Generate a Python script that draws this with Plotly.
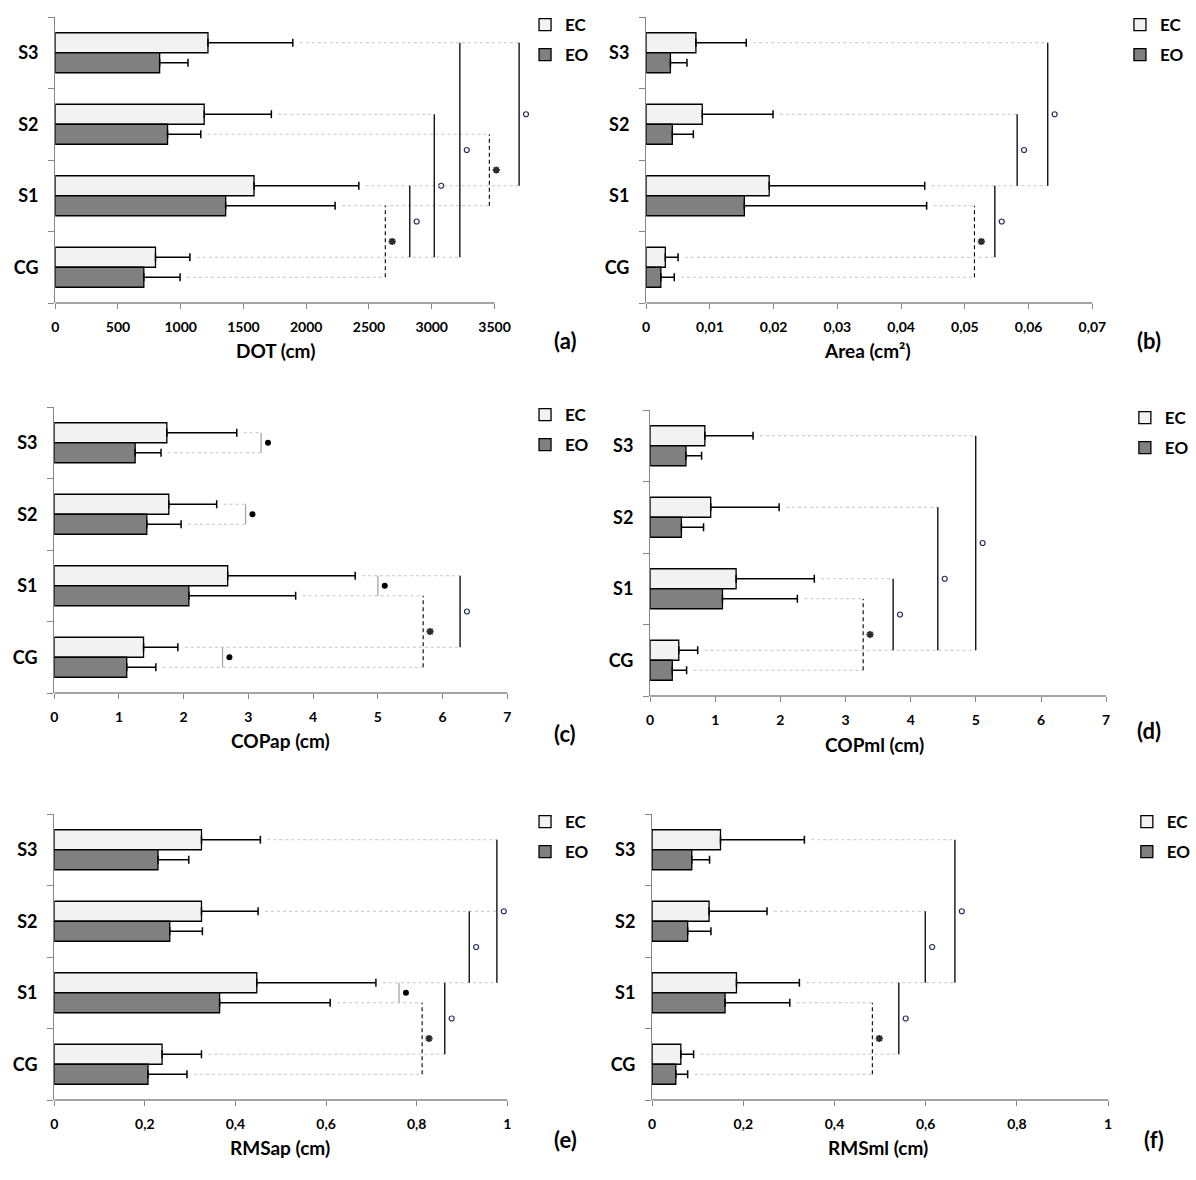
import plotly.graph_objects as go

W, H = 1196, 1180
FONT = "Lato"
GRAY = "#868686"
GROUPS = ["CG", "S1", "S2", "S3"]

# ---------------- data (means and SD, order CG, S1, S2, S3) ----------------
dot_ec = [799, 1584, 1187, 1217]
dot_ec_sd = [274, 835, 535, 676]
dot_eo = [706, 1358, 895, 832]
dot_eo_sd = [289, 872, 265, 226]
# (group1, cond1, group2, cond2, bracket x, style, mark)
dot_brackets = [
    ("CG", "EO", "S1", "EO", 2630, "dash", "*"),
    ("CG", "EC", "S1", "EC", 2825, "solid", "°"),
    ("CG", "EC", "S2", "EC", 3020, "solid", "°"),
    ("CG", "EC", "S3", "EC", 3224, "solid", "°"),
    ("S1", "EO", "S2", "EO", 3459, "dash", "*"),
    ("S1", "EC", "S3", "EC", 3696, "solid", "°"),
]

area_ec = [0.0030, 0.0193, 0.0088, 0.0078]
area_ec_sd = [0.0020, 0.0244, 0.0111, 0.0079]
area_eo = [0.0023, 0.0154, 0.0041, 0.0038]
area_eo_sd = [0.0021, 0.0286, 0.0033, 0.0026]
area_brackets = [
    ("CG", "EO", "S1", "EO", 0.0515, "dash", "*"),
    ("CG", "EC", "S1", "EC", 0.0547, "solid", "°"),
    ("S1", "EC", "S2", "EC", 0.0582, "solid", "°"),
    ("S1", "EC", "S3", "EC", 0.0630, "solid", "°"),
]

copap_ec = [1.38, 2.68, 1.77, 1.74]
copap_ec_sd = [0.53, 1.97, 0.74, 1.08]
copap_eo = [1.12, 2.08, 1.43, 1.25]
copap_eo_sd = [0.45, 1.65, 0.53, 0.40]
copap_brackets = [
    ("S3", "EC", "S3", "EO", 3.196, "gray", "•"),
    ("S2", "EC", "S2", "EO", 2.956, "gray", "•"),
    ("S1", "EC", "S1", "EO", 5.00, "gray", "•"),
    ("CG", "EC", "CG", "EO", 2.60, "gray", "•"),
    ("CG", "EO", "S1", "EO", 5.70, "dash", "*"),
    ("CG", "EC", "S1", "EC", 6.27, "solid", "°"),
]

copml_ec = [0.44, 1.32, 0.93, 0.84]
copml_ec_sd = [0.29, 1.20, 1.05, 0.74]
copml_eo = [0.34, 1.11, 0.48, 0.55]
copml_eo_sd = [0.22, 1.15, 0.34, 0.24]
copml_brackets = [
    ("CG", "EO", "S1", "EO", 3.27, "dash", "*"),
    ("CG", "EC", "S1", "EC", 3.73, "solid", "°"),
    ("CG", "EC", "S2", "EC", 4.416, "solid", "°"),
    ("CG", "EC", "S3", "EC", 4.998, "solid", "°"),
]

rmsap_ec = [0.238, 0.447, 0.325, 0.325]
rmsap_ec_sd = [0.087, 0.263, 0.125, 0.130]
rmsap_eo = [0.207, 0.365, 0.255, 0.229]
rmsap_eo_sd = [0.086, 0.244, 0.072, 0.068]
rmsap_brackets = [
    ("S1", "EC", "S1", "EO", 0.761, "gray", "•"),
    ("CG", "EO", "S1", "EO", 0.812, "dash", "*"),
    ("CG", "EC", "S1", "EC", 0.862, "solid", "°"),
    ("S1", "EC", "S2", "EC", 0.916, "solid", "°"),
    ("S1", "EC", "S3", "EC", 0.977, "solid", "°"),
]
# extra dotted guide (group, cond, x) that runs past its own bracket
rmsap_extra = [("S2", "EC", 0.977)]

rmsml_ec = [0.063, 0.185, 0.125, 0.150]
rmsml_ec_sd = [0.028, 0.138, 0.127, 0.184]
rmsml_eo = [0.052, 0.160, 0.078, 0.087]
rmsml_eo_sd = [0.026, 0.142, 0.051, 0.039]
rmsml_brackets = [
    ("CG", "EO", "S1", "EO", 0.483, "dash", "*"),
    ("CG", "EC", "S1", "EC", 0.541, "solid", "°"),
    ("S1", "EC", "S2", "EC", 0.599, "solid", "°"),
    ("S1", "EC", "S3", "EC", 0.664, "solid", "°"),
]

# ---------------- panel layout (pixels) ----------------
panels = [
    dict(tag="(a)", title="DOT (cm)", ec=dot_ec, ec_sd=dot_ec_sd, eo=dot_eo, eo_sd=dot_eo_sd,
         br=dot_brackets, extra=[], axmax=3500, dtick=500, dec=0,
         left=52, axpx=498, right=540, top=17, bottom=303,
         title_xy=(276, 351), tag_xy=(570, 341), leg_xy=(549, 25)),
    dict(tag="(b)", title="Area (cm²)", ec=area_ec, ec_sd=area_ec_sd, eo=area_eo, eo_sd=area_eo_sd,
         br=area_brackets, extra=[], axmax=0.07, dtick=0.01, dec=2,
         left=652, axpx=1105, right=1110, top=17, bottom=303,
         title_xy=(877, 351), tag_xy=(1162, 341), leg_xy=(1153, 25)),
    dict(tag="(c)", title="COPap (cm)", ec=copap_ec, ec_sd=copap_ec_sd, eo=copap_eo, eo_sd=copap_eo_sd,
         br=copap_brackets, extra=[], axmax=7, dtick=1, dec=0,
         left=51, axpx=511, right=515, top=407, bottom=693,
         title_xy=(281, 740), tag_xy=(570, 733), leg_xy=(549, 415)),
    dict(tag="(d)", title="COPml (cm)", ec=copml_ec, ec_sd=copml_ec_sd, eo=copml_eo, eo_sd=copml_eo_sd,
         br=copml_brackets, extra=[], axmax=7, dtick=1, dec=0,
         left=656, axpx=1119, right=1123, top=410, bottom=696,
         title_xy=(884, 744), tag_xy=(1162, 730), leg_xy=(1158, 418)),
    dict(tag="(e)", title="RMSap (cm)", ec=rmsap_ec, ec_sd=rmsap_ec_sd, eo=rmsap_eo, eo_sd=rmsap_eo_sd,
         br=rmsap_brackets, extra=rmsap_extra, axmax=1, dtick=0.2, dec=1,
         left=51, axpx=511, right=515, top=814, bottom=1100,
         title_xy=(280, 1147), tag_xy=(570, 1139), leg_xy=(549, 822)),
    dict(tag="(f)", title="RMSml (cm)", ec=rmsml_ec, ec_sd=rmsml_ec_sd, eo=rmsml_eo, eo_sd=rmsml_eo_sd,
         br=rmsml_brackets, extra=[], axmax=1, dtick=0.2, dec=1,
         left=658, axpx=1121, right=1125, top=814, bottom=1100,
         title_xy=(887, 1147), tag_xy=(1168, 1139), leg_xy=(1160, 822)),
]

BAR_W = 0.28
COLORS = {"EC": "#F2F2F2", "EO": "#808080"}
GPOS = {g: i for i, g in enumerate(GROUPS)}


def ypos(g, s):
    return GPOS[g] + (BAR_W / 2 if s == "EC" else -BAR_W / 2)


def fmt(v, dec):
    if abs(v) < 1e-12:
        return "0"
    s = f"{v:.{dec}f}" if dec else f"{int(round(v))}"
    if "." in s:
        s = s.rstrip("0").rstrip(".")
    return s.replace(".", ",")


fig = go.Figure()
layout = {}
shapes = []
annotations = []

for k, P in enumerate(panels, start=1):
    sfx = "" if k == 1 else str(k)
    xa, ya, leg = "x" + sfx, "y" + sfx, "legend" + sfx
    ppu = (P["axpx"] - P["left"]) / P["axmax"]
    rng_max = (P["right"] - P["left"]) / ppu
    vals = {"EC": (P["ec"], P["ec_sd"]), "EO": (P["eo"], P["eo_sd"])}

    for s in ["EC", "EO"]:
        v, sd = vals[s]
        fig.add_trace(go.Bar(
            x=v, y=list(range(len(GROUPS))), orientation="h",
            width=BAR_W, offset=0 if s == "EC" else -BAR_W,
            name=s, legend=leg, legendgroup=leg + s,
            marker=dict(color=COLORS[s], line=dict(color="black", width=1.3)),
            error_x=dict(type="data", array=sd, arrayminus=[0] * len(sd), symmetric=False,
                         color="black", thickness=1.5, width=4),
            xaxis=xa, yaxis=ya, hoverinfo="skip"))

    # dotted connectors from error-bar end to farthest bracket
    ends = {}
    for g1, s1, g2, s2, bx, style, mark in P["br"]:
        for key in [(g1, s1), (g2, s2)]:
            ends[key] = max(ends.get(key, 0), bx)
    for g, s, bx in P["extra"]:
        ends[(g, s)] = max(ends.get((g, s), 0), bx)
    gap = 7 / ppu
    for (g, s), bx in ends.items():
        v, sd = vals[s]
        i = GPOS[g]
        shapes.append(dict(type="line", xref=xa, yref=ya, x0=v[i] + sd[i] + gap, x1=bx,
                           y0=ypos(g, s), y1=ypos(g, s),
                           line=dict(color="#C4C4C4", width=1, dash="dot")))

    # brackets + marks
    marks = {"°": ([], []), "*": ([], []), "•": ([], [])}
    for g1, s1, g2, s2, bx, style, mark in P["br"]:
        y1, y2 = ypos(g1, s1), ypos(g2, s2)
        if style == "dash":
            ln = dict(color="black", width=1.1, dash="4px,3px")
        elif style == "gray":
            ln = dict(color="#A6A6A6", width=1.3)
        else:
            ln = dict(color="black", width=1.3)
        shapes.append(dict(type="line", xref=xa, yref=ya, x0=bx, x1=bx, y0=y1, y1=y2, line=ln))
        marks[mark][0].append(bx + 7 / ppu)
        marks[mark][1].append((y1 + y2) / 2)
    mstyle = {
        "°": dict(symbol="circle-open", size=5, color="#1F2A5C", line=dict(width=1.2, color="#1F2A5C")),
        "*": dict(symbol="asterisk-open", size=6, color="#2A2A2A", line=dict(width=1.8, color="#2A2A2A")),
        "•": dict(symbol="circle", size=6, color="black"),
    }
    for m, (mx, my) in marks.items():
        if mx:
            fig.add_trace(go.Scatter(x=mx, y=my, mode="markers", marker=mstyle[m], showlegend=False,
                                     xaxis=xa, yaxis=ya, hoverinfo="skip", cliponaxis=False))

    # bottom axis line only up to last tick
    shapes.append(dict(type="line", xref=xa, yref=ya + " domain", x0=0, x1=P["axmax"], y0=0, y1=0,
                       line=dict(color=GRAY, width=1.3)))

    nt = int(round(P["axmax"] / P["dtick"]))
    tv = [round(i * P["dtick"], 6) for i in range(nt + 1)]
    layout["xaxis" + sfx] = dict(
        domain=[P["left"] / W, P["right"] / W], range=[0, rng_max], anchor=ya,
        showgrid=False, zeroline=False, showline=False,
        tickvals=tv, ticktext=[fmt(t, P["dec"]) for t in tv],
        ticks="outside", ticklen=5, tickwidth=1.3, tickcolor=GRAY,
        tickfont=dict(family=FONT, size=14, color="black", weight="bold"),
        ticklabelstandoff=6, fixedrange=True)
    layout["yaxis" + sfx] = dict(
        domain=[1 - P["bottom"] / H, 1 - P["top"] / H], range=[-0.5, len(GROUPS) - 0.5], anchor=xa,
        showgrid=False, zeroline=False, showline=True, linecolor=GRAY, linewidth=1.3,
        tickvals=list(range(len(GROUPS))), ticktext=GROUPS, ticks="outside", ticklen=0,
        tickfont=dict(family=FONT, size=18, color="black", weight="bold"),
        ticklabelstandoff=12,
        minor=dict(tickvals=[i - 0.5 for i in range(len(GROUPS) + 1)], ticks="outside",
                   ticklen=6, tickwidth=1.3, tickcolor=GRAY),
        fixedrange=True)
    lx, ly = P["leg_xy"]
    layout[leg] = dict(x=(lx - 20) / W, y=1 - (ly - 18) / H, xanchor="left", yanchor="top",
                       bgcolor="rgba(0,0,0,0)", borderwidth=0, itemwidth=30,
                       tracegroupgap=5, traceorder="grouped",
                       font=dict(family=FONT, size=17, color="black", weight="bold"))
    tx, ty = P["title_xy"]
    annotations.append(dict(x=tx / W, y=1 - ty / H, xref="paper", yref="paper", text=P["title"],
                            showarrow=False, xanchor="center", yanchor="middle",
                            font=dict(family=FONT, size=19, color="black", weight="bold")))
    gx, gy = P["tag_xy"]
    annotations.append(dict(x=gx / W, y=1 - gy / H, xref="paper", yref="paper", text=P["tag"],
                            showarrow=False, xanchor="center", yanchor="middle",
                            font=dict(family=FONT, size=22, color="black", weight="bold")))

fig.update_layout(
    width=W, height=H, margin=dict(l=0, r=0, t=0, b=0),
    paper_bgcolor="white", plot_bgcolor="white",
    barmode="overlay", shapes=shapes, annotations=annotations,
    font=dict(family=FONT, color="black"),
    **layout)

fig.write_html("out.html", config={"displayModeBar": False},
               post_script="document.body.style.margin='0';")
